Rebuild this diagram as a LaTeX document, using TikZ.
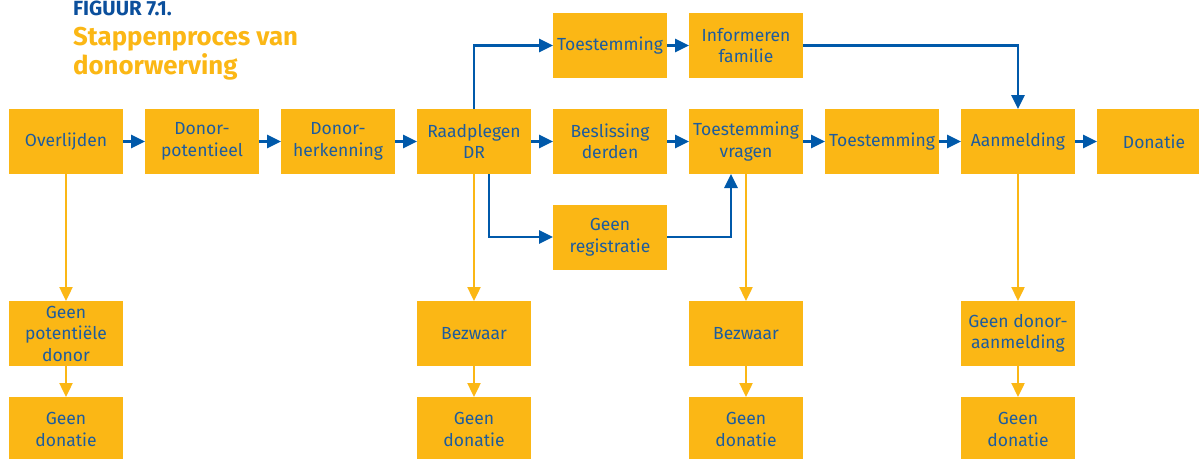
\documentclass[tikz,border=0pt]{standalone}
\usepackage{fontspec}
\setmainfont{Fira Sans}
\usetikzlibrary{arrows.meta}
\definecolor{boxyellow}{HTML}{FBB715}
\definecolor{textblue}{HTML}{1D5C9E}
\definecolor{arrowblue}{HTML}{0059AA}
\definecolor{titleblue}{HTML}{0B4F9C}
\begin{document}
\begin{tikzpicture}[x=1pt,y=-1pt,
	box/.style={fill=boxyellow,text=textblue,minimum width=114pt,minimum height=65pt,inner sep=0pt,outer sep=0pt,align=center,font=\fontsize{17.5}{21.5}\selectfont},
	bluearrow/.style={draw=arrowblue,line width=2.8pt,-{Triangle[length=14pt,width=13pt]}},
	yellowarrow/.style={draw=boxyellow,line width=2.4pt,-{Triangle[length=14pt,width=13pt]}}]
	\useasboundingbox (0,0) rectangle (1199,458);
	% title
	\node [anchor=base west,inner sep=0pt,text=titleblue,font=\fontsize{20.5}{20.5}\selectfont\bfseries] (figlabel) at (73,15.5) {FIGUUR 7.1.};
	\node [anchor=base west,inner sep=0pt,text=boxyellow,font=\fontsize{25.8}{29}\selectfont\bfseries] (titlea) at (73,45) {Stappenproces van};
	\node [anchor=base west,inner sep=0pt,text=boxyellow,font=\fontsize{25.8}{29}\selectfont\bfseries] (titleb) at (73,74) {donorwerving};
	% main row
	\node [box] (overlijden) at (66,141.5) {Overlijden};
	\node [box] (potentieel) at (202,141.5) {Donor-\\potentieel};
	\node [box] (herkenning) at (338,141.5) {Donor-\\herkenning};
	\node [box] (raadplegen) at (474,141.5) {Raadplegen\\DR};
	\node [box] (beslissing) at (610,141.5) {Beslissing\\derden};
	\node [box] (vragen) at (746,141.5) {Toestemming\\vragen};
	\node [box] (toestemming) at (882,141.5) {Toestemming};
	\node [box] (aanmelding) at (1018,141.5) {Aanmelding};
	\node [box] (donatie) at (1154,141.5) {Donatie};
	% top row
	\node [box] (toestemmingtop) at (610,45.5) {Toestemming};
	\node [box] (informeren) at (746,45.5) {Informeren\\familie};
	\node [box] (geenreg) at (610,237) {Geen\\registratie};
	% lower rows
	\node [box] (geenpot) at (66,333.5) {Geen\\potentiële\\donor};
	\node [box] (bezwaara) at (474,333.5) {Bezwaar};
	\node [box] (bezwaarb) at (746,333.5) {Bezwaar};
	\node [box] (geenaanm) at (1018,333.5) {Geen donor-\\aanmelding};
	\node [box] (geendona) at (66,429.5) {Geen\\donatie};
	\node [box] (geendonb) at (474,429.5) {Geen\\donatie};
	\node [box] (geendonc) at (746,429.5) {Geen\\donatie};
	\node [box] (geendond) at (1018,429.5) {Geen\\donatie};
	% blue connectors
	\draw [bluearrow] (overlijden) -- (potentieel);
	\draw [bluearrow] (potentieel) -- (herkenning);
	\draw [bluearrow] (herkenning) -- (raadplegen);
	\draw [bluearrow] (raadplegen) -- (beslissing);
	\draw [bluearrow] (beslissing) -- (vragen);
	\draw [bluearrow] (vragen) -- (toestemming);
	\draw [bluearrow] (toestemming) -- (aanmelding);
	\draw [bluearrow] (aanmelding) -- (donatie);
	\draw [bluearrow] (toestemmingtop) -- (informeren);
	\draw [bluearrow] (raadplegen.north) |- (toestemmingtop.west);
	\draw [bluearrow] ([xshift=15pt]raadplegen.south) |- (geenreg.west);
	\draw [bluearrow] (geenreg.east) -| ([xshift=-15pt]vragen.south);
	\draw [bluearrow] (informeren.east) -| (aanmelding.north);
	% yellow connectors
	\draw [yellowarrow] (overlijden.south) -- (geenpot.north);
	\draw [yellowarrow] (geenpot.south) -- (geendona.north);
	\draw [yellowarrow] (raadplegen.south) -- (bezwaara.north);
	\draw [yellowarrow] (bezwaara.south) -- (geendonb.north);
	\draw [yellowarrow] (vragen.south) -- (bezwaarb.north);
	\draw [yellowarrow] (bezwaarb.south) -- (geendonc.north);
	\draw [yellowarrow] (aanmelding.south) -- (geenaanm.north);
	\draw [yellowarrow] (geenaanm.south) -- (geendond.north);
\end{tikzpicture}
\end{document}
